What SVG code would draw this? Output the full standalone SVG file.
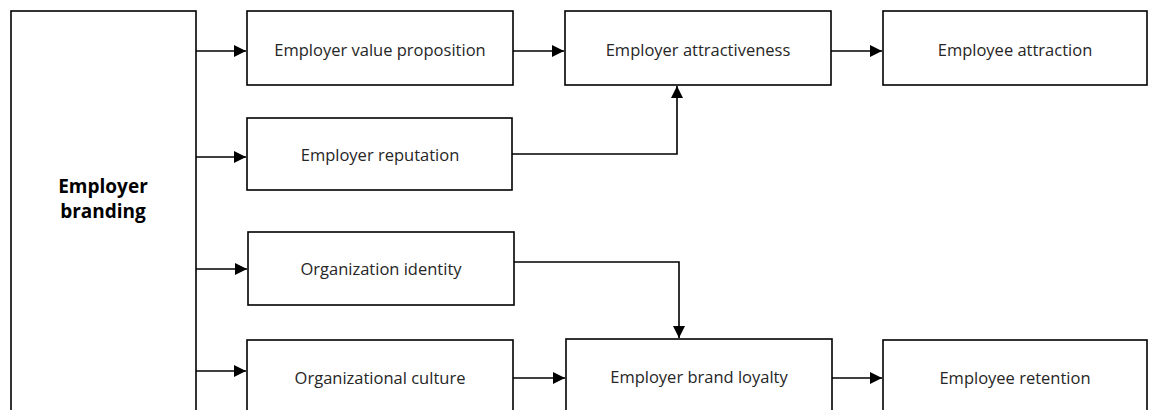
<svg xmlns="http://www.w3.org/2000/svg" width="1149" height="410" viewBox="0 0 1149 410">
<style>
.box{fill:#fff;stroke:#000;stroke-width:1.6}
.lbl{font-family:"Open Sans","Liberation Sans",sans-serif;font-size:16.5px;fill:#262626;text-anchor:middle}
.bold{font-weight:bold;font-size:19px;fill:#000}
.con{fill:none;stroke:#000;stroke-width:1.6}
</style>
<defs>
<marker id="arr" viewBox="0 0 10 10" refX="10" refY="5" markerWidth="12" markerHeight="12" markerUnits="userSpaceOnUse" orient="auto">
<path d="M0,0 L10,5 L0,10 z" fill="#000"/>
</marker>
</defs>
<g id="n-branding"><rect class="box" x="11" y="11" width="185" height="410"/><text class="lbl bold" x="103" y="193">Employer</text><text class="lbl bold" x="103" y="218">branding</text></g>
<g id="n-evp"><rect class="box" x="247" y="11" width="266" height="74"/><text class="lbl" x="380" y="56">Employer value proposition</text></g>
<g id="n-rep"><rect class="box" x="247" y="118" width="265" height="72"/><text class="lbl" x="380" y="161">Employer reputation</text></g>
<g id="n-orgid"><rect class="box" x="248" y="232" width="266" height="73"/><text class="lbl" x="381" y="275">Organization identity</text></g>
<g id="n-culture"><rect class="box" x="247" y="340" width="266" height="80"/><text class="lbl" x="380" y="384">Organizational culture</text></g>
<g id="n-attr"><rect class="box" x="565" y="11" width="266" height="74"/><text class="lbl" x="698" y="56">Employer attractiveness</text></g>
<g id="n-loyal"><rect class="box" x="566" y="339" width="266" height="80"/><text class="lbl" x="699" y="383">Employer brand loyalty</text></g>
<g id="n-eattr"><rect class="box" x="883" y="11" width="264" height="74"/><text class="lbl" x="1015" y="56">Employee attraction</text></g>
<g id="n-eret"><rect class="box" x="883" y="340" width="264" height="80"/><text class="lbl" x="1015" y="384">Employee retention</text></g>
<g id="connectors">
<path class="con" d="M196,51 H246" marker-end="url(#arr)"/>
<path class="con" d="M196,157 H246" marker-end="url(#arr)"/>
<path class="con" d="M196,269 H247" marker-end="url(#arr)"/>
<path class="con" d="M196,371 H246" marker-end="url(#arr)"/>
<path class="con" d="M513,51 H564" marker-end="url(#arr)"/>
<path class="con" d="M831,51 H882" marker-end="url(#arr)"/>
<path class="con" d="M512,154 H677 V86" marker-end="url(#arr)"/>
<path class="con" d="M514,262 H679 V338" marker-end="url(#arr)"/>
<path class="con" d="M513,378 H565" marker-end="url(#arr)"/>
<path class="con" d="M832,378 H882" marker-end="url(#arr)"/>
</g>
</svg>
